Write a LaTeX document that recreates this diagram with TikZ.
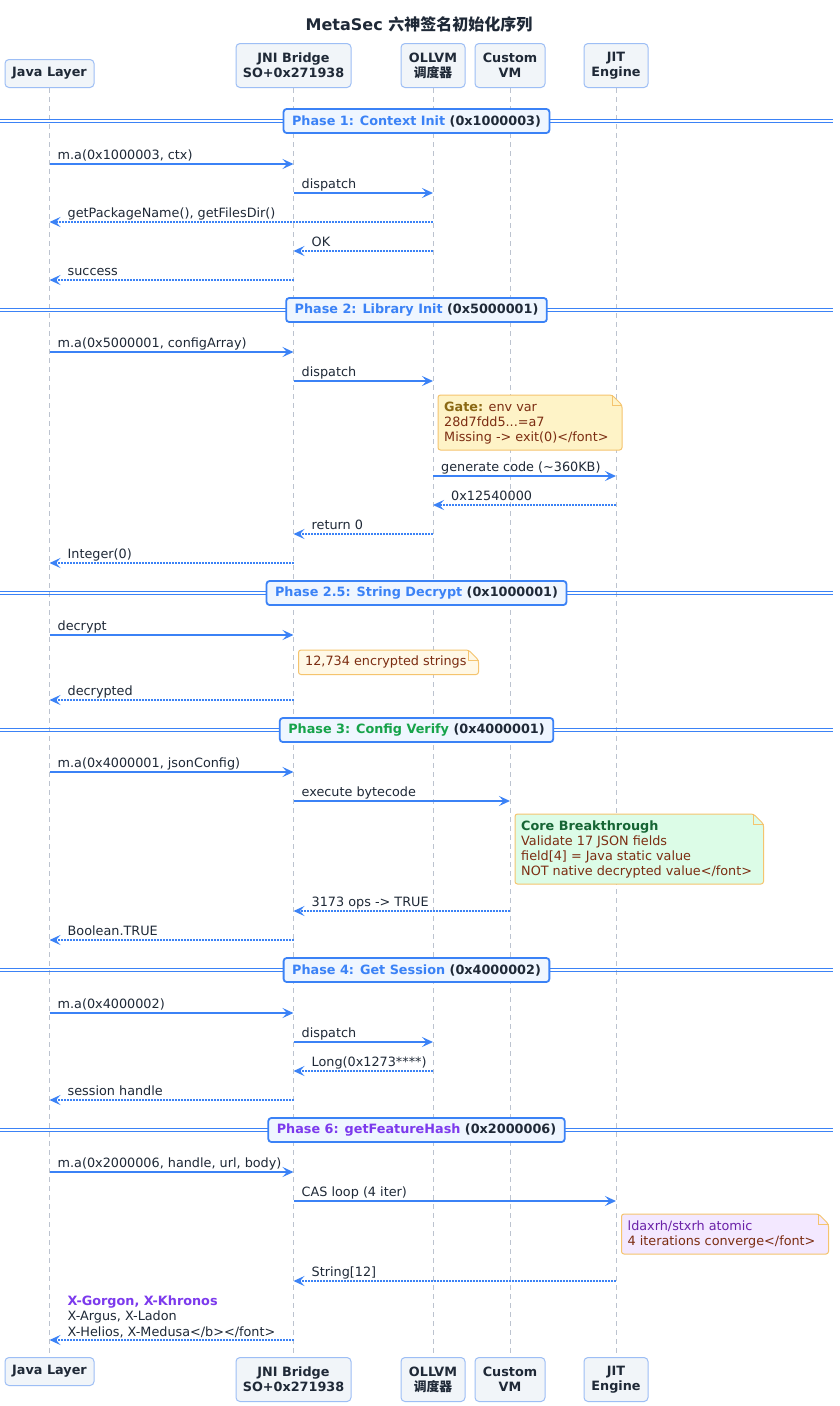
\documentclass[tikz,border=0pt]{standalone}
\usepackage{fontspec}
\setmainfont{DejaVu Sans}
\newfontfamily\cjk{Noto Sans CJK SC}
\usetikzlibrary{arrows.meta}
\definecolor{ablue}{HTML}{3B82F6}
\definecolor{dark}{HTML}{1F2937}
\definecolor{pfill}{HTML}{F1F5F9}
\definecolor{pdraw}{HTML}{9DBEF5}
\definecolor{lifec}{HTML}{BCC3CF}
\definecolor{phfill}{HTML}{EFF6FF}
\definecolor{pgreen}{HTML}{16A34A}
\definecolor{ppurple}{HTML}{7C3AED}
\definecolor{nyellow}{HTML}{FEF3C7}
\definecolor{nyellowb}{HTML}{FFF8E6}
\definecolor{ndraw}{HTML}{F5C46E}
\definecolor{ngreen}{HTML}{DCFCE7}
\definecolor{npurple}{HTML}{F3E8FF}
\definecolor{nbrown}{HTML}{7C2D12}
\definecolor{ngold}{HTML}{8B6914}
\definecolor{ndkgreen}{HTML}{166534}
\definecolor{ndpurple}{HTML}{6B21A8}
\newcommand\basefont{\fontsize{12.8}{15}\selectfont}
\newcounter{mc}
\newcommand\callmsg[4]{%
  \stepcounter{mc}%
  \coordinate (a\themc) at (#1 |- 0,#3);
  \coordinate (b\themc) at (#2 |- 0,#3);
  \draw[callar] (a\themc) -- (b\themc);
  \node[lbl] (t\themc) at ([xshift=8pt,yshift=5pt]a\themc) {#4};
}
\newcommand\retmsg[4]{%
  \stepcounter{mc}%
  \coordinate (a\themc) at (#1 |- 0,#3);
  \coordinate (b\themc) at (#2 |- 0,#3);
  \draw[retar] (a\themc) -- (b\themc);
  \node[lbl] (t\themc) at ([xshift=18pt,yshift=5pt]b\themc) {#4};
}
\newcommand\phasediv[4]{%
  \stepcounter{mc}%
  \coordinate (pl\themc) at (0,#1-1.7);
  \coordinate (pr\themc) at (833,#1-1.7);
  \coordinate (ql\themc) at (0,#1+1.7);
  \coordinate (qr\themc) at (833,#1+1.7);
  \draw[dbl] (pl\themc) -- (pr\themc);
  \draw[dbl] (ql\themc) -- (qr\themc);
  \node[phasebox] (ph\themc) at (416.5,#1) {\textcolor{#4}{#2} (#3)};
}
\newcommand\notebox[5]{%
  \filldraw[fill=#5, draw=ndraw, line width=1pt, rounded corners=2.5pt]
    (#1,#2) -- (#3-10,#2) -- (#3,#2+10) -- (#3,#4) -- (#1,#4) -- cycle;
  \draw[ndraw, line width=1pt] (#3-10,#2) -- (#3-10,#2+10) -- (#3,#2+10);
}
\begin{document}
\begin{tikzpicture}[x=1pt,y=-1pt,
  part/.style={draw=pdraw, fill=pfill, rounded corners=4pt, line width=1pt,
    font=\basefont\bfseries, align=center, inner sep=0pt, text=dark},
  callar/.style={ablue, line width=1.6pt, -{Stealth[length=11pt,width=10pt,inset=4.5pt]}},
  retar/.style={callar, dash pattern=on 1.6pt off 1.4pt},
  lifeln/.style={lifec, line width=1pt, dash pattern=on 5pt off 4pt},
  lbl/.style={inner sep=0pt, anchor=base west, text=dark, font=\basefont},
  dbl/.style={ablue, line width=1.1pt},
  phasebox/.style={draw=ablue, fill=phfill, line width=1.8pt, rounded corners=3pt,
    minimum height=24pt, inner xsep=8.5pt, inner ysep=0pt, font=\basefont\bfseries, text=dark},
  notetxt/.style={inner sep=0pt, anchor=north west, align=left, text=nbrown, font=\basefont}]
\fill[white] (0,0) rectangle (839,1406);
\useasboundingbox (0,0) rectangle (839,1406);
% title
\node[font=\fontsize{16}{19}\selectfont\bfseries, text=dark] (title) at (419,24)
  {MetaSec {\cjk\bfseries 六神签名初始化序列}};
% participants (top)
\node[part, minimum width=89pt, minimum height=28pt, anchor=south] (javaT) at (49.5,88) {Java Layer};
\node[part, minimum width=115pt, minimum height=44pt, anchor=south] (jniT) at (293.5,88) {JNI Bridge\\SO+0x271938};
\node[part, minimum width=64pt, minimum height=44pt, anchor=south] (ollT) at (433,88) {OLLVM\\{\cjk\bfseries 调度器}};
\node[part, minimum width=70pt, minimum height=44pt, anchor=south] (vmT) at (510,88) {Custom\\VM};
\node[part, minimum width=64pt, minimum height=44pt, anchor=south] (jitT) at (616,88) {JIT\\Engine};
% participants (bottom)
\node[part, minimum width=89pt, minimum height=28pt, anchor=north] (javaB) at (49.5,1357) {Java Layer};
\node[part, minimum width=115pt, minimum height=44pt, anchor=north] (jniB) at (293.5,1357) {JNI Bridge\\SO+0x271938};
\node[part, minimum width=64pt, minimum height=44pt, anchor=north] (ollB) at (433,1357) {OLLVM\\{\cjk\bfseries 调度器}};
\node[part, minimum width=70pt, minimum height=44pt, anchor=north] (vmB) at (510,1357) {Custom\\VM};
\node[part, minimum width=64pt, minimum height=44pt, anchor=north] (jitB) at (616,1357) {JIT\\Engine};
% lifelines
\draw[lifeln] (javaT.south) -- (javaB.north);
\draw[lifeln] (jniT.south) -- (jniB.north);
\draw[lifeln] (ollT.south) -- (ollB.north);
\draw[lifeln] (vmT.south) -- (vmB.north);
\draw[lifeln] (jitT.south) -- (jitB.north);
% Phase 1
\phasediv{121}{Phase 1: Context Init}{0x1000003}{ablue}
\callmsg{javaT}{jniT}{164}{m.a(0x1000003, ctx)}
\callmsg{jniT}{ollT}{193}{dispatch}
\retmsg{ollT}{javaT}{222}{getPackageName(), getFilesDir()}
\retmsg{ollT}{jniT}{251}{OK}
\retmsg{jniT}{javaT}{280}{success}
% Phase 2
\phasediv{310}{Phase 2: Library Init}{0x5000001}{ablue}
\callmsg{javaT}{jniT}{352}{m.a(0x5000001, configArray)}
\callmsg{jniT}{ollT}{381}{dispatch}
\notebox{438}{395}{622}{450}{nyellow}
\node[notetxt] (gate) at (444,402) {{\bfseries\color{ngold}Gate:} env var\\28d7fdd5...=a7\\Missing -> exit(0)</font>};
\callmsg{ollT}{jitT}{476}{generate code (\textasciitilde360KB)}
\retmsg{jitT}{ollT}{505}{0x12540000}
\retmsg{ollT}{jniT}{534}{return 0}
\retmsg{jniT}{javaT}{563}{Integer(0)}
% Phase 2.5
\phasediv{593}{Phase 2.5: String Decrypt}{0x1000001}{ablue}
\callmsg{javaT}{jniT}{635}{decrypt}
\notebox{298.5}{650}{478.5}{674.5}{nyellowb}
\node[notetxt] (strs) at (305,656) {12,734 encrypted strings};
\retmsg{jniT}{javaT}{700}{decrypted}
% Phase 3
\phasediv{730}{Phase 3: Config Verify}{0x4000001}{pgreen}
\callmsg{javaT}{jniT}{772}{m.a(0x4000001, jsonConfig)}
\callmsg{jniT}{vmT}{801}{execute bytecode}
\notebox{515}{814}{763.5}{884}{ngreen}
\node[notetxt] (core) at (521,821) {{\bfseries\color{ndkgreen}Core Breakthrough}\\Validate 17 JSON fields\\field[4] = Java static value\\NOT native decrypted value</font>};
\retmsg{vmT}{jniT}{911}{3173 ops -> TRUE}
\retmsg{jniT}{javaT}{940}{Boolean.TRUE}
% Phase 4
\phasediv{970}{Phase 4: Get Session}{0x4000002}{ablue}
\callmsg{javaT}{jniT}{1013}{m.a(0x4000002)}
\callmsg{jniT}{ollT}{1042}{dispatch}
\retmsg{ollT}{jniT}{1071}{Long(0x1273****)}
\retmsg{jniT}{javaT}{1100}{session handle}
% Phase 6
\phasediv{1130}{Phase 6: getFeatureHash}{0x2000006}{ppurple}
\callmsg{javaT}{jniT}{1172}{m.a(0x2000006, handle, url, body)}
\callmsg{jniT}{jitT}{1201}{CAS loop (4 iter)}
\notebox{621.5}{1214}{828.5}{1254}{npurple}
\node[notetxt] (cas) at (627.5,1221) {{\color{ndpurple}ldaxrh/stxrh atomic}\\4 iterations converge</font>};
\retmsg{jitT}{jniT}{1281}{String[12]}
\coordinate (ha) at (jniT |- 0,1340);
\coordinate (hb) at (javaT |- 0,1340);
\draw[retar] (ha) -- (hb);
\node[inner sep=0pt, anchor=north west, align=left, text=dark, font=\fontsize{12.8}{15.3}\selectfont]
  (hdrs) at ([xshift=18pt]hb |- 0,1295.5) {{\bfseries\color{ppurple}X-Gorgon, X-Khronos}\\X-Argus, X-Ladon\\X-Helios, X-Medusa</b></font>};
\end{tikzpicture}
\end{document}
